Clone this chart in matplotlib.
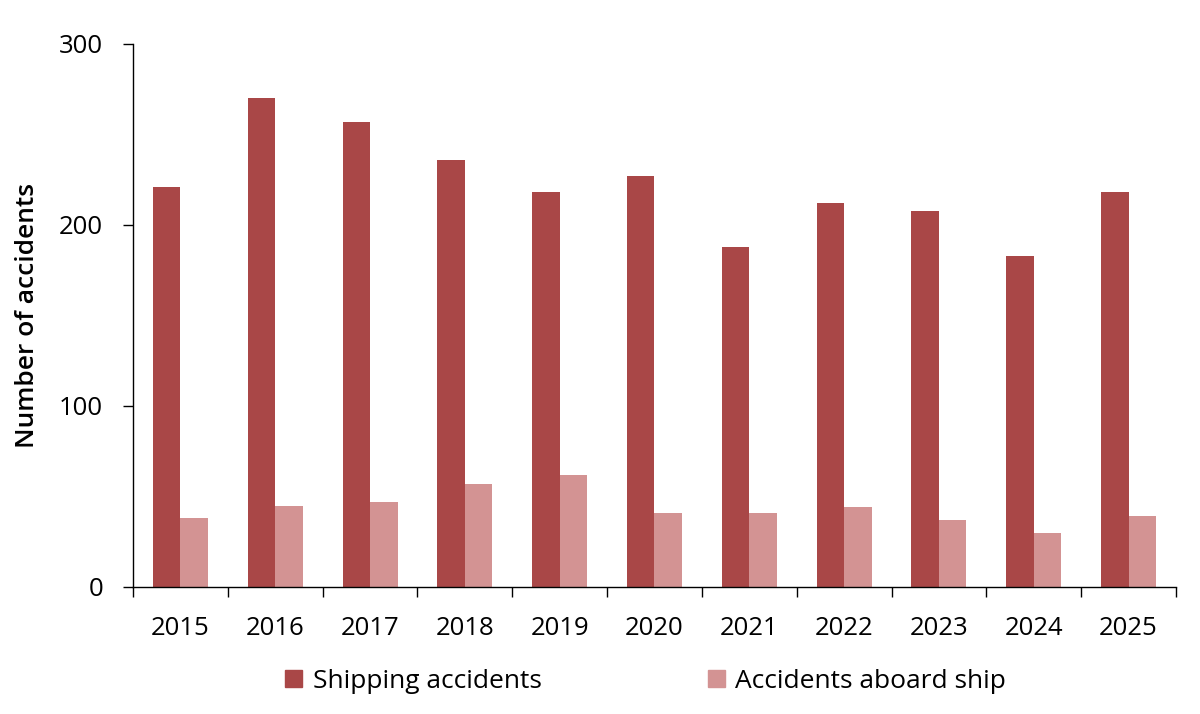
import numpy as np
import matplotlib.pyplot as plt
from matplotlib.patches import Patch

years = ['2015', '2016', '2017', '2018', '2019', '2020', '2021', '2022', '2023', '2024', '2025']
shipping = [221, 270, 257, 236, 218, 227, 188, 212, 208, 183, 218]
aboard = [38, 45, 47, 57, 62, 41, 41, 44, 37, 30, 39]

dark = '#A94747'
light = '#D39393'

plt.rcParams['font.family'] = ['Open Sans', 'DejaVu Sans']

fig = plt.figure(figsize=(12, 7.14), dpi=100)
ax = fig.add_axes([0.1108, 0.1779, 0.8692, 0.7605])

x = np.arange(len(years))
w = 0.29
ax.bar(x - w / 2, shipping, width=w, color=dark, label='Shipping accidents')
ax.bar(x + w / 2, aboard, width=w, color=light, label='Accidents aboard ship')

ax.set_xlim(-0.5, len(years) - 0.5)
ax.set_ylim(0, 300)
ax.set_yticks([0, 100, 200, 300])

# category boundaries as major ticks, labels on minor ticks at centres
ax.set_xticks(np.arange(len(years) + 1) - 0.5)
ax.set_xticklabels([])
ax.set_xticks(x, minor=True)
ax.set_xticklabels(years, minor=True)
ax.tick_params(axis='x', which='major', length=7.5, width=1, direction='out')
ax.tick_params(axis='x', which='minor', length=0, pad=21, labelsize=18.5)
ax.tick_params(axis='y', length=7.5, width=1, direction='out', pad=14, labelsize=18.5)

for s in ['top', 'right']:
    ax.spines[s].set_visible(False)
for s in ['left', 'bottom']:
    ax.spines[s].set_linewidth(1)

ax.set_ylabel('Number of accidents', fontsize=19, fontweight='semibold', labelpad=14)

handles = [Patch(color=dark, label='Shipping accidents'),
           Patch(color=light, label='Accidents aboard ship')]
fig.legend(handles=handles, loc='center', bbox_to_anchor=(0.538, 0.046), ncol=2,
           frameon=False, fontsize=19, handlelength=0.65, handleheight=0.65,
           handletextpad=0.4, columnspacing=6.3)

fig.savefig('out.png', dpi=100)
